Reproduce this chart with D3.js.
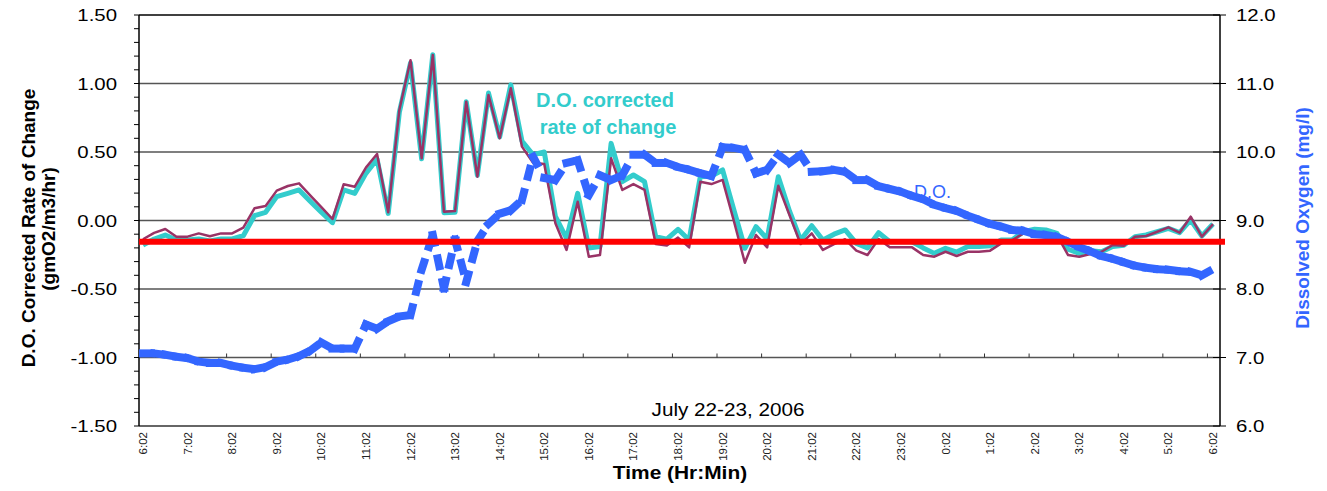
<!DOCTYPE html>
<html>
<head>
<meta charset="utf-8">
<script src="https://cdn.jsdelivr.net/npm/d3@7"></script>
<style>
  body { margin: 0; background: #fff; }
  text { font-family: "Liberation Sans", Arial, sans-serif; }
</style>
</head>
<body>
<div class="container"></div>
<script>
// 15 minute samples, 6:02 on July 22 to 6:02 on July 23
var hourLabels = ['6:02','7:02','8:02','9:02','10:02','11:02','12:02','13:02','14:02','15:02',
    '16:02','17:02','18:02','19:02','20:02','21:02','22:02','23:02','0:02','1:02','2:02',
    '3:02','4:02','5:02','6:02'];

// D.O. rate of change (dark plum line)
var rateRaw = [-0.137,-0.09,-0.062,-0.118,-0.118,-0.094,-0.115,-0.094,-0.094,-0.052,
    0.089,0.106,0.218,0.252,0.271,0.184,0.097,0.011,0.264,0.247,
    0.386,0.485,0.06,0.807,1.17,0.454,1.208,0.064,0.069,0.867,
    0.32,0.916,0.60,0.965,0.539,0.422,0.412,-0.02,-0.215,0.137,
    -0.264,-0.252,0.454,0.223,0.266,0.223,-0.172,-0.183,-0.125,-0.196,
    0.283,0.266,0.296,0.0,-0.308,-0.106,-0.196,0.254,0.04,-0.172,
    -0.094,-0.215,-0.172,-0.137,-0.22,-0.252,-0.135,-0.196,-0.196,-0.196,
    -0.252,-0.264,-0.228,-0.259,-0.228,-0.228,-0.22,-0.167,-0.142,-0.094,
    -0.089,-0.099,-0.106,-0.252,-0.264,-0.245,-0.228,-0.179,-0.184,-0.118,
    -0.113,-0.082,-0.05,-0.089,0.028,-0.118,-0.026];

// D.O. corrected rate of change (turquoise line)
var rateCorrected = [-0.18,-0.135,-0.106,-0.142,-0.142,-0.135,-0.15,-0.135,-0.135,-0.111,
    0.035,0.06,0.174,0.198,0.223,0.14,0.06,-0.016,0.223,0.198,
    0.344,0.447,0.052,0.79,1.15,0.45,1.21,0.057,0.06,0.867,
    0.33,0.93,0.61,0.99,0.58,0.48,0.50,0.03,-0.13,0.198,
    -0.2,-0.19,0.563,0.283,0.332,0.283,-0.118,-0.136,-0.064,-0.142,
    0.32,0.325,0.369,0.08,-0.203,-0.045,-0.135,0.32,0.07,-0.142,
    -0.038,-0.142,-0.10,-0.069,-0.167,-0.2,-0.089,-0.155,-0.155,-0.155,
    -0.2,-0.24,-0.203,-0.23,-0.19,-0.19,-0.184,-0.142,-0.14,-0.082,
    -0.064,-0.069,-0.094,-0.21,-0.24,-0.22,-0.228,-0.19,-0.18,-0.118,
    -0.106,-0.082,-0.057,-0.089,0.004,-0.113,-0.026];

// dissolved oxygen, mg/l (right axis)
var dissolvedOxygen = [7.06,7.06,7.04,7.01,6.99,6.94,6.92,6.92,6.88,6.85,
    6.83,6.86,6.94,6.97,7.02,7.10,7.22,7.13,7.13,7.13,
    7.48,7.42,7.53,7.60,7.62,8.28,8.79,8.01,8.72,8.10,
    8.70,8.95,9.10,9.15,9.30,9.93,9.62,9.59,9.84,9.88,
    9.37,9.66,9.59,9.66,9.96,9.96,9.84,9.84,9.78,9.74,
    9.69,9.65,10.07,10.06,10.03,9.69,9.74,9.96,9.84,9.96,
    9.71,9.72,9.74,9.71,9.59,9.59,9.50,9.46,9.42,9.36,
    9.31,9.23,9.18,9.14,9.07,9.01,8.95,8.91,8.86,8.85,
    8.80,8.79,8.76,8.69,8.61,8.55,8.48,8.44,8.39,8.34,
    8.31,8.29,8.28,8.26,8.25,8.20,8.29];

var referenceRate = -0.155;

var leftTicks = [1.5, 1.0, 0.5, 0.0, -0.5, -1.0, -1.5];
var rightTicks = [12, 11, 10, 9, 8, 7, 6];
var gridValues = [1.0, 0.5, 0.0, -0.5];

var drawChart = function () {
    const WIDTH = 1327, HEIGHT = 491;
    const LEFT = 139, RIGHT = 1220, TOP = 15, BOTTOM = 426;
    const PLUM = '#993366', TEAL = '#33CCCC', BLUE = '#3366FF', RED = '#FF0000';

    var svg = d3.select('.container')
        .append('svg')
        .attr('width', WIDTH)
        .attr('height', HEIGHT);

    var x = d3.scaleLinear().domain([0, rateRaw.length - 1]).range([143, 1213]);
    var yL = d3.scaleLinear().domain([-1.5, 1.5]).range([BOTTOM, TOP]);
    var yR = d3.scaleLinear().domain([6, 12]).range([BOTTOM, TOP]);

    // gridlines
    svg.append('g').selectAll('line')
        .data(gridValues)
        .join('line')
        .attr('x1', LEFT).attr('x2', RIGHT)
        .attr('y1', d => yL(d)).attr('y2', d => yL(d))
        .style('stroke', '#555').style('stroke-width', 1.3);

    // frame: top and bottom
    svg.append('line')
        .attr('x1', LEFT).attr('x2', RIGHT).attr('y1', TOP).attr('y2', TOP)
        .style('stroke', '#000').style('stroke-width', 1.5);
    svg.append('line')
        .attr('x1', LEFT).attr('x2', RIGHT).attr('y1', BOTTOM).attr('y2', BOTTOM)
        .style('stroke', '#333').style('stroke-width', 1.5);

    // category axis crossing at -1.00
    svg.append('line')
        .attr('x1', LEFT).attr('x2', RIGHT).attr('y1', yL(-1)).attr('y2', yL(-1))
        .style('stroke', '#555').style('stroke-width', 1.3);
    svg.append('g').selectAll('line')
        .data(d3.range(7.5, 96, 4))
        .join('line')
        .attr('x1', d => x(d)).attr('x2', d => x(d))
        .attr('y1', yL(-1)).attr('y2', yL(-1) - 4)
        .style('stroke', '#333').style('stroke-width', 1);

    // left axis
    var minor = d3.range(-15, 16).map(d => d / 10);
    svg.append('g').selectAll('line')
        .data(minor)
        .join('line')
        .attr('x1', LEFT - 5).attr('x2', LEFT)
        .attr('y1', d => yL(d)).attr('y2', d => yL(d))
        .style('stroke', '#000').style('stroke-width', 1);
    svg.append('line')
        .attr('x1', LEFT).attr('x2', LEFT).attr('y1', TOP).attr('y2', BOTTOM)
        .style('stroke', '#000').style('stroke-width', 1.5);
    svg.append('g').selectAll('text')
        .data(leftTicks)
        .join('text')
        .attr('transform', d => 'translate(117,' + (yL(d) + 6) + ') scale(1.2,1)')
        .attr('text-anchor', 'end')
        .style('font-size', '17px')
        .style('fill', '#000')
        .text(d => d.toFixed(2));

    // right axis
    svg.append('line')
        .attr('x1', RIGHT).attr('x2', RIGHT).attr('y1', TOP).attr('y2', BOTTOM)
        .style('stroke', '#000').style('stroke-width', 1.5);
    svg.append('g').selectAll('line')
        .data(rightTicks)
        .join('line')
        .attr('x1', RIGHT - 7).attr('x2', RIGHT + 6)
        .attr('y1', d => yR(d)).attr('y2', d => yR(d))
        .style('stroke', '#000').style('stroke-width', 1);
    svg.append('g').selectAll('text')
        .data(rightTicks)
        .join('text')
        .attr('transform', d => 'translate(1236,' + (yR(d) + 6) + ') scale(1.2,1)')
        .style('font-size', '17px')
        .style('fill', '#000')
        .text(d => d.toFixed(1));

    // time labels, rotated
    svg.append('g').selectAll('text')
        .data(hourLabels)
        .join('text')
        .attr('transform', (d, i) => 'translate(' + (x(i * 4) + 4) + ',432) rotate(-90)')
        .attr('text-anchor', 'end')
        .style('font-size', '11.5px')
        .style('fill', '#222')
        .text(d => d);

    // series lines
    var lineL = d3.line().x((d, i) => x(i)).y(d => yL(d));

    svg.append('path')
        .datum(rateCorrected)
        .attr('d', lineL)
        .style('fill', 'none')
        .style('stroke', TEAL)
        .style('stroke-width', 5)
        .style('stroke-linejoin', 'round');

    svg.append('path')
        .datum(rateRaw)
        .attr('d', lineL)
        .style('fill', 'none')
        .style('stroke', PLUM)
        .style('stroke-width', 2.5)
        .style('stroke-linejoin', 'round');

    // dissolved oxygen: each segment dashed on its own
    var doPoints = dissolvedOxygen.map((v, i) => [x(i), yR(v)]);
    svg.append('g').selectAll('line')
        .data(d3.pairs(doPoints))
        .join('line')
        .attr('x1', d => d[0][0]).attr('y1', d => d[0][1])
        .attr('x2', d => d[1][0]).attr('y2', d => d[1][1])
        .style('stroke', BLUE)
        .style('stroke-width', 8)
        .style('stroke-linecap', 'square')
        .style('stroke-dasharray', '8 16');

    // reference line
    svg.append('line')
        .attr('x1', LEFT).attr('x2', RIGHT + 5)
        .attr('y1', yL(referenceRate)).attr('y2', yL(referenceRate))
        .style('stroke', RED)
        .style('stroke-width', 6);

    // labels inside the plot
    svg.append('text')
        .attr('x', 605).attr('y', 107)
        .attr('text-anchor', 'middle')
        .style('font-size', '20px').style('font-weight', 'bold')
        .style('fill', TEAL)
        .text('D.O. corrected');
    svg.append('text')
        .attr('x', 608).attr('y', 134)
        .attr('text-anchor', 'middle')
        .style('font-size', '20px').style('font-weight', 'bold')
        .style('fill', TEAL)
        .text('rate of change');
    svg.append('text')
        .attr('x', 914).attr('y', 198)
        .style('font-size', '18px')
        .style('fill', BLUE)
        .text('D.O.');
    svg.append('text')
        .attr('transform', 'translate(728,416) scale(1.15,1)')
        .attr('text-anchor', 'middle')
        .style('font-size', '18px')
        .style('fill', '#000')
        .text('July 22-23, 2006');

    // axis titles
    svg.append('text')
        .attr('transform', 'translate(35,228) rotate(-90)')
        .attr('text-anchor', 'middle')
        .style('font-size', '19px').style('font-weight', 'bold')
        .text('D.O. Corrected Rate of Change');
    svg.append('text')
        .attr('transform', 'translate(55,229) rotate(-90)')
        .attr('text-anchor', 'middle')
        .style('font-size', '19px').style('font-weight', 'bold')
        .text('(gmO2/m3/hr)');
    svg.append('text')
        .attr('transform', 'translate(1309,218) rotate(-90)')
        .attr('text-anchor', 'middle')
        .style('font-size', '19px').style('font-weight', 'bold')
        .style('fill', BLUE)
        .text('Dissolved Oxygen (mg/l)');
    svg.append('text')
        .attr('transform', 'translate(680,479) scale(1.1,1)')
        .attr('text-anchor', 'middle')
        .style('font-size', '19px').style('font-weight', 'bold')
        .text('Time (Hr:Min)');
};
window.onload = drawChart;
</script>
</body>
</html>
